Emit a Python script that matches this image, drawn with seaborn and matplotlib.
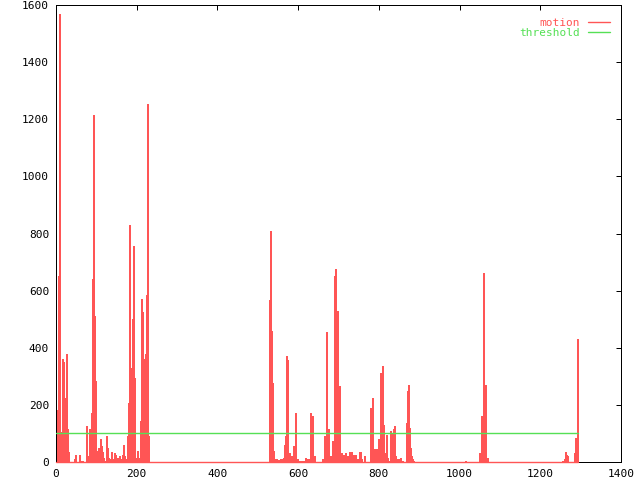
import matplotlib
matplotlib.use('Agg')
import matplotlib.pyplot as plt
from matplotlib.lines import Line2D
import seaborn as sns

# motion per frame (frames without an entry are 0)
frames_a = [0, 2, 4, 6, 8, 10, 12, 15, 17, 20, 22, 25, 27, 30, 45, 47, 57, 60, 62, 65,
            75, 77, 82, 85, 87, 90, 92, 94, 97, 99, 102, 104, 107, 109, 112, 114, 117, 119, 124, 127,
            129, 132, 134, 137, 139, 144, 147, 149, 152, 154, 157, 159, 164, 166, 169, 171, 174, 176, 179, 181,
            184, 186, 189, 191, 194, 196, 199, 201, 204, 206, 209, 211, 214, 216, 219, 221, 224, 226, 229]
motion_a = [48, 182, 650, 650, 1570, 40, 105, 360, 350, 80, 225, 378, 115, 35, 10, 25, 25, 5, 5, 5,
            125, 20, 115, 50, 170, 640, 1215, 510, 285, 30, 40, 50, 20, 80, 55, 35, 15, 5, 90, 50,
            15, 5, 10, 35, 10, 30, 25, 10, 15, 5, 20, 10, 25, 60, 20, 10, 5, 90, 205, 830,
            305, 330, 500, 755, 295, 15, 15, 40, 15, 5, 145, 570, 525, 360, 48, 378, 583, 1255, 90]

frames_b = [528, 531, 533, 536, 538, 541, 543, 546, 548, 551, 553, 556, 558, 561, 563, 566, 568, 571, 573, 576,
            578, 583, 586, 588, 591, 593, 596, 598, 601, 606, 610, 613, 615, 618, 620, 623, 625, 628, 630, 633,
            635, 638, 640]
motion_b = [567, 809, 459, 278, 40, 10, 5, 10, 8, 8, 5, 10, 10, 10, 15, 60, 90, 372, 357, 30,
            5, 20, 5, 55, 170, 135, 10, 5, 5, 5, 5, 5, 5, 15, 10, 5, 10, 10, 172, 160,
            45, 20, 5]

frames_c = [658, 663, 665, 668, 670, 673, 675, 678, 680, 683, 685, 688, 690, 692, 695, 697, 700, 702, 705, 707,
            710, 712, 715, 717, 720, 722, 725, 727, 730, 732, 735, 737, 740, 742, 745, 747, 750, 752, 755, 764]
motion_c = [10, 5, 90, 155, 455, 115, 50, 10, 20, 50, 75, 300, 650, 675, 505, 530, 265, 25, 15, 30,
            25, 15, 30, 10, 20, 10, 35, 30, 20, 35, 25, 20, 25, 15, 10, 5, 20, 35, 10, 20]

frames_d = [777, 779, 782, 784, 787, 789, 792, 794, 797, 799, 802, 804, 807, 809, 812, 814, 817, 819, 826, 828,
            831, 833, 836, 838, 841, 843, 846, 848, 853, 856, 868, 870, 873, 875, 878, 880, 883, 885]
motion_d = [85, 190, 225, 30, 45, 20, 35, 45, 65, 80, 280, 310, 335, 130, 30, 10, 95, 15, 5, 110,
            100, 15, 115, 125, 20, 5, 10, 10, 15, 5, 135, 250, 270, 120, 50, 20, 10, 5]

frames_e = [1014, 1049, 1052, 1054, 1057, 1059, 1062, 1064, 1067,
            1254, 1256, 1259, 1261, 1264, 1266, 1284, 1286, 1289, 1291]
motion_e = [3, 30, 75, 160, 570, 660, 270, 45, 15,
            3, 5, 10, 35, 25, 20, 30, 85, 80, 430]

last_frame = 1293
threshold = 100

x_ticks = [0, 200, 400, 600, 800, 1000, 1200, 1400]
y_ticks = [0, 200, 400, 600, 800, 1000, 1200, 1400, 1600]

frames = frames_a + frames_b + frames_c + frames_d + frames_e
motion = motion_a + motion_b + motion_c + motion_d + motion_e

red = '#ff5555'
green = '#55e055'

sns.set_theme(style='white')
plt.rcParams['font.family'] = ['DejaVu Sans Mono']

fig = plt.figure(figsize=(6.4, 4.8), dpi=100)
ax = fig.add_axes([56 / 640, 18 / 480, 565 / 640, 457 / 480])

# impulses (edge stroke keeps the single-frame spikes visible)
ax.bar(frames, motion, width=2.6, align='edge', color=red, edgecolor=red,
       linewidth=0.4, antialiased=False, zorder=2)
sns.lineplot(x=[0, last_frame], y=[0, 0], color=red, lw=1, ax=ax,
             clip_on=False, zorder=4)
sns.lineplot(x=[0, last_frame], y=[threshold, threshold], color=green, lw=1,
             ax=ax, zorder=3)

ax.set_xlim(0, 1400)
ax.set_ylim(0, 1600)
ax.set_xticks(x_ticks)
ax.set_yticks(y_ticks)
ax.set_xlabel('')
ax.set_ylabel('')
ax.tick_params(direction='in', length=3.6, width=0.72, color='black',
               top=True, right=True, labelsize=8, labelcolor='black', pad=5)
for s in ax.spines.values():
    s.set_color('black')
    s.set_linewidth(0.72)
    s.set_visible(True)

handles = [Line2D([], [], color=red, lw=1), Line2D([], [], color=green, lw=1)]
ax.legend(handles, ['motion', 'threshold'], loc='upper right',
          bbox_to_anchor=(610 / 640, 1 - 17.5 / 480), bbox_transform=fig.transFigure,
          markerfirst=False, frameon=False, fontsize=8, labelcolor='linecolor',
          handlelength=2.0, handletextpad=0.7, labelspacing=0.05,
          borderpad=0, borderaxespad=0)

fig.savefig('out.png', dpi=100)
